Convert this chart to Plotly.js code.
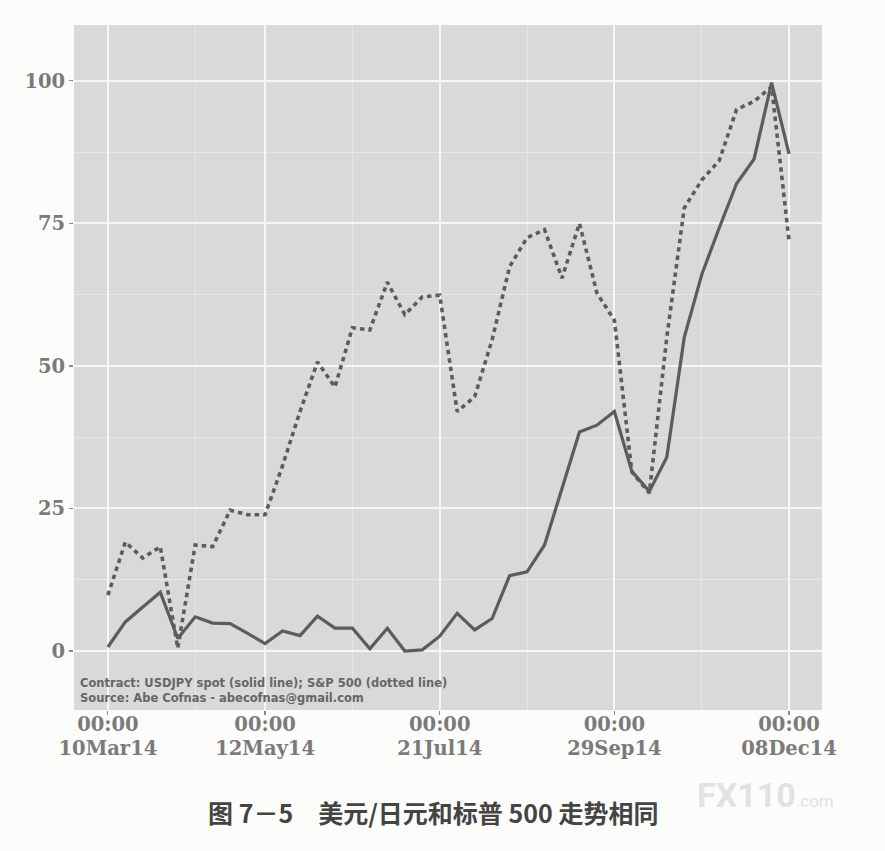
<!DOCTYPE html>
<html>
<head>
<meta charset="utf-8">
<script src="https://cdn.plot.ly/plotly-3.0.1.min.js"></script>
<style>
html,body{margin:0;padding:0;background:#fcfcfb;}
#chart{width:885px;height:851px;}
</style>
</head>
<body>
<div id="chart"></div>
<script>
const weeks = ["2014-03-10","2014-03-17","2014-03-24","2014-03-31","2014-04-07","2014-04-14","2014-04-21","2014-04-28",
"2014-05-05","2014-05-12","2014-05-19","2014-05-26","2014-06-02","2014-06-09","2014-06-16","2014-06-23",
"2014-06-30","2014-07-07","2014-07-14","2014-07-21","2014-07-28","2014-08-04","2014-08-11","2014-08-18",
"2014-08-25","2014-09-01","2014-09-08","2014-09-15","2014-09-22","2014-09-29","2014-10-06","2014-10-13",
"2014-10-20","2014-10-27","2014-11-03","2014-11-10","2014-11-17","2014-11-24","2014-12-01","2014-12-08"];

const usdjpy = [0.7,5.1,7.7,10.3,2.2,6.0,4.9,4.8,3.1,1.3,3.5,2.7,6.1,4.0,4.0,0.4,4.0,0,0.2,2.6,
6.6,3.7,5.7,13.2,13.9,18.6,28.5,38.4,39.6,42,31.5,28,34,55,66,74.2,82,86.3,99.7,87.2];

const sp500 = [9.8,19.1,16.3,18.3,0.5,18.6,18.3,24.7,23.9,23.9,32.5,42,50.7,46.3,56.7,56.3,64.7,59,62.1,62.4,
42,44.6,54.6,67.4,72.5,73.9,65.4,75,62.8,58,31.4,27.7,55,77.7,82.6,86,95,96.4,99,72];

const xTickVals = ["2014-03-10","2014-05-12","2014-07-21","2014-09-29","2014-12-08"];
const xTickTime = ["00:00","00:00","00:00","00:00","00:00"];
const xTickDate = ["10Mar14","12May14","21Jul14","29Sep14","08Dec14"];
const xMinorVals = ["2014-04-14","2014-06-16","2014-08-25","2014-11-03"];
const yTickVals = [0,25,50,75,100];
const yTickText = ["0","25","50","75","100"];
const yMinorVals = [12.5,37.5,62.5,87.5];

const xRange = ["2014-02-24 10:00", "2014-12-21 05:00"];
const lineColor = "#5c5c5c";
const traces = [
  {x: weeks, y: sp500, type: "scatter", mode: "lines", name: "S&P 500",
   line: {color: lineColor, width: 3.6, dash: "4.5px,4px"}},
  {x: weeks, y: usdjpy, type: "scatter", mode: "lines", name: "USDJPY",
   line: {color: lineColor, width: 3.2}},
  {x: xTickVals, y: [null,null,null,null,null], xaxis: "x2", type: "scatter", mode: "lines", hoverinfo: "skip", showlegend: false}
];

const tickFont = {family: "DejaVu Serif", size: 19.5, color: "#7a7a7a", weight: "bold"};

const layout = {
  width: 885, height: 851,
  margin: {l: 74, r: 63, t: 25, b: 141, pad: 0},
  paper_bgcolor: "#fcfcfb",
  plot_bgcolor: "#d9d9d9",
  showlegend: false,
  xaxis: {
    type: "date", range: xRange,
    tickmode: "array", tickvals: xTickVals, ticktext: xTickDate,
    tickfont: tickFont, ticklabelstandoff: 17,
    ticks: "outside", ticklen: 4, tickwidth: 1.2, tickcolor: "#8a8a8a",
    showgrid: true, gridcolor: "#f6f6f6", gridwidth: 2,
    zeroline: false, showline: false,
    minor: {tickmode: "array", tickvals: xMinorVals, showgrid: true, gridcolor: "#e6e6e6", gridwidth: 1, ticklen: 0}
  },
  xaxis2: {
    type: "date", range: xRange, overlaying: "x", anchor: "y", side: "bottom",
    tickmode: "array", tickvals: xTickVals, ticktext: xTickTime,
    tickfont: tickFont, ticks: "",
    showgrid: false, zeroline: false, showline: false
  },
  yaxis: {
    range: [-10.35, 109.8],
    tickmode: "array", tickvals: yTickVals, ticktext: yTickText,
    tickfont: tickFont,
    ticks: "outside", ticklen: 4, tickwidth: 1.2, tickcolor: "#8a8a8a",
    showgrid: true, gridcolor: "#f6f6f6", gridwidth: 2,
    zeroline: false, showline: false,
    minor: {tickmode: "array", tickvals: yMinorVals, showgrid: true, gridcolor: "#e6e6e6", gridwidth: 1, ticklen: 0}
  },
  annotations: [
    {xref: "paper", yref: "paper", x: 0.006, y: 0.004, xanchor: "left", yanchor: "bottom",
     align: "left", showarrow: false,
     text: "Contract: USDJPY spot (solid line); S&P 500 (dotted line)<br>Source: Abe Cofnas - abecofnas@gmail.com",
     font: {family: "DejaVu Sans", size: 11.5, color: "#666666", weight: "bold"}},
    {xref: "paper", yref: "paper", x: 0.48, y: -0.149, xanchor: "center", yanchor: "middle",
     showarrow: false,
     text: "图 7－5　美元/日元和标普 500 走势相同",
     font: {family: "Noto Sans CJK SC", size: 25, color: "#444444", weight: "bold"}},
    {xref: "paper", yref: "paper", x: 0.924, y: -0.124, xanchor: "center", yanchor: "middle",
     showarrow: false,
     text: "FX110<span style='font-size:17px;font-weight:normal'>.com</span>",
     font: {family: "Roboto", size: 34, color: "#e2e2e2", weight: "bold"}}
  ]
};

Plotly.newPlot("chart", traces, layout, {displayModeBar: false, staticPlot: true});
</script>
</body>
</html>
